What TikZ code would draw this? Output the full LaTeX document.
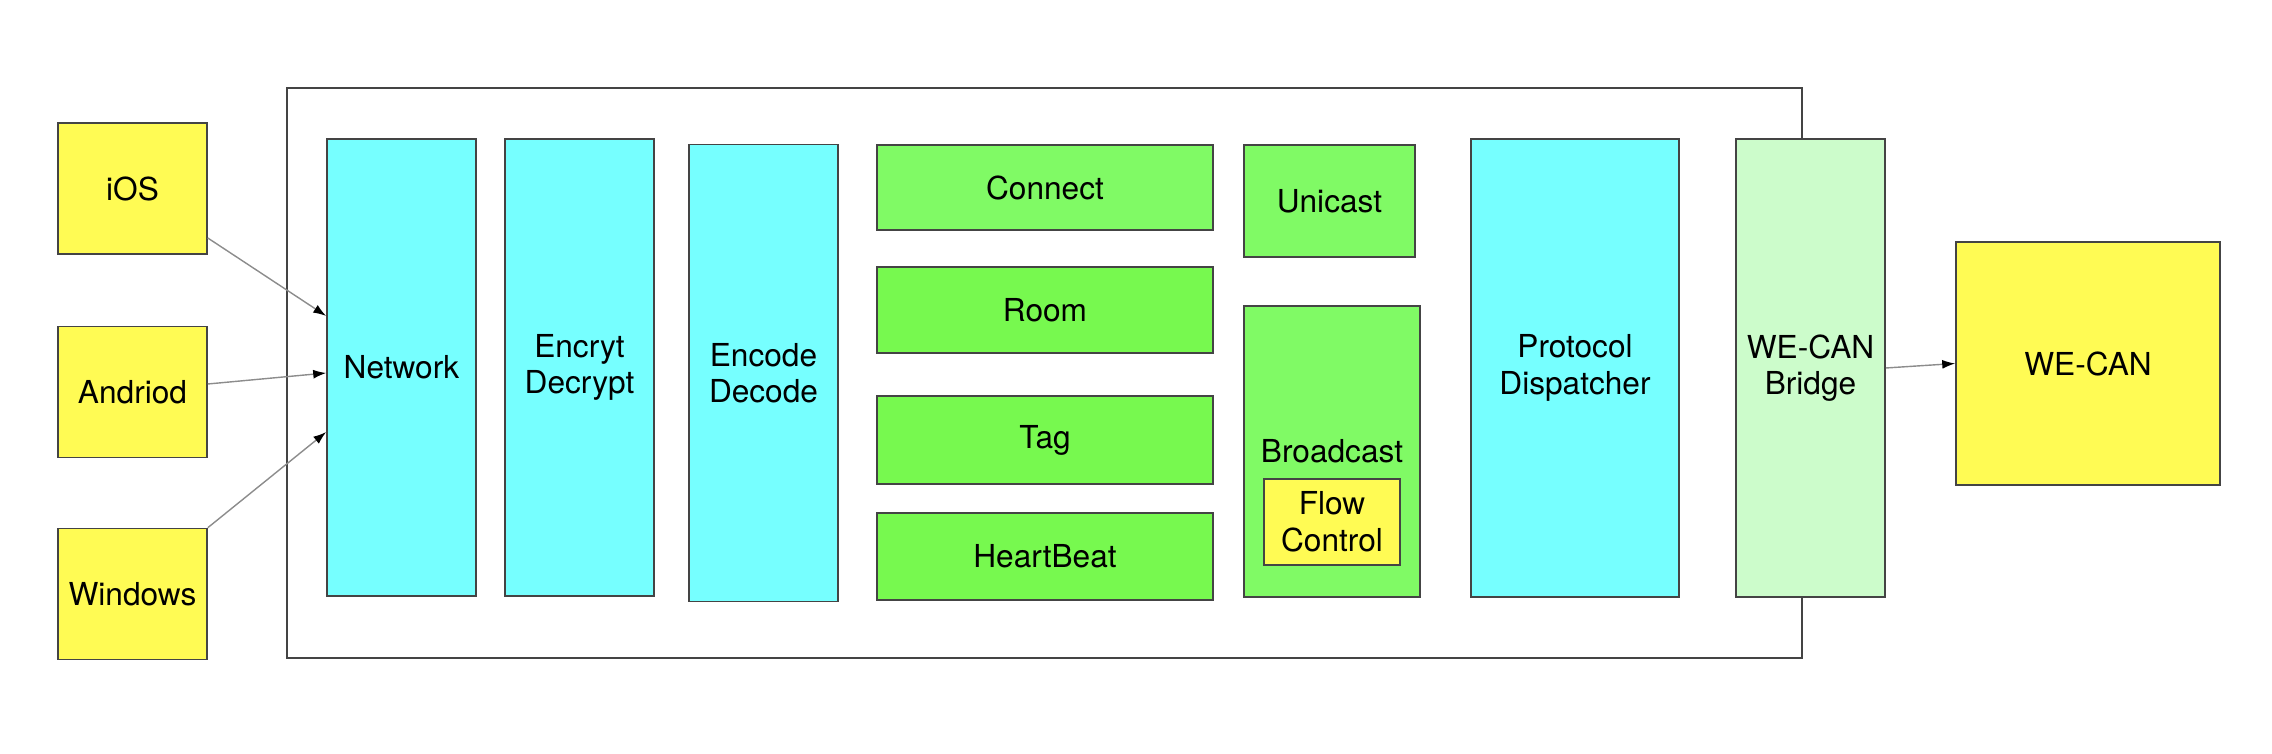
\documentclass[tikz,border=0pt]{standalone}
\usepackage{fontspec}
\setmainfont{TeX Gyre Heros}
\usetikzlibrary{arrows.meta}
\definecolor{clientyellow}{HTML}{FFFB54}
\definecolor{layercyan}{HTML}{76FFFF}
\definecolor{logicgreen}{HTML}{80FA65}
\definecolor{groupgreen}{HTML}{77F94F}
\definecolor{bridgegreen}{HTML}{CCFCCB}
\definecolor{edgegray}{HTML}{444444}
\begin{document}
\begin{tikzpicture}[
      font=\fontsize{9}{10.4}\selectfont,
      block/.style={
        draw=edgegray, line width=0.45pt, rectangle, inner sep=0pt,
        align=center
      },
      client/.style={block, fill=clientyellow,
        minimum width=1.49cm, minimum height=1.31cm},
      layer/.style={block, fill=layercyan,
        minimum width=1.49cm, minimum height=4.57cm},
      group/.style={block, fill=groupgreen,
        minimum width=3.36cm, minimum height=0.86cm},
      core/.style={draw=edgegray, line width=0.45pt, inner sep=0pt,
        minimum width=15.15cm, minimum height=5.70cm},
      link/.style={draw=black!45, line width=0.4pt,
        -{Latex[length=1.3mm,width=0.9mm,color=black]}}
    ]
    \useasboundingbox (0,0) rectangle (22.72,-7.54);

    \node[core] (server) at (10.445,-3.73) {};

    \node[client] (ios) at (1.325,-1.885) {iOS};
    \node[client] (andriod) at (1.325,-3.92) {Andriod};
    \node[client] (windows) at (1.325,-5.94) {Windows};

    \node[layer] (network) at (4.015,-3.675) {Network};
    \node[layer] (crypt) at (5.795,-3.675) {Encryt\\Decrypt};
    \node[layer] (codec) at (7.635,-3.73) {Encode\\Decode};

    \node[group, fill=logicgreen, minimum height=0.85cm] (connect) at (10.45,-1.875) {Connect};
    \node[group] (room) at (10.45,-3.10) {Room};
    \node[group, minimum height=0.88cm] (tag) at (10.45,-4.40) {Tag};
    \node[group, minimum height=0.87cm] (heartbeat) at (10.45,-5.565) {HeartBeat};

    \node[block, fill=logicgreen, minimum width=1.71cm, minimum height=1.12cm]
      (unicast) at (13.295,-2.01) {Unicast};
    \node[block, fill=logicgreen, minimum width=1.76cm, minimum height=2.91cm]
      (broadcast) at (13.32,-4.515) {Broadcast};
    \node[block, fill=clientyellow, minimum width=1.36cm, minimum height=0.86cm]
      (flow) at (13.32,-5.22) {Flow\\Control};

    \node[layer, minimum width=2.08cm, minimum height=4.58cm]
      (dispatch) at (15.75,-3.68) {Protocol\\Dispatcher};
    \node[layer, fill=bridgegreen, minimum height=4.58cm]
      (bridge) at (18.105,-3.68) {WE-CAN\\Bridge};
    \node[block, fill=clientyellow, minimum width=2.64cm, minimum height=2.43cm]
      (wecan) at (20.88,-3.635) {WE-CAN};

    \draw[link] ([yshift=-0.495cm]ios.east) -- ([yshift=0.515cm]network.west);
    \draw[link] ([yshift=0.08cm]andriod.east) -- ([yshift=-0.055cm]network.west);
    \draw[link] (windows.north east) -- ([yshift=-0.645cm]network.west);
    \draw[link] (bridge.east) -- (wecan.west);
  \end{tikzpicture}
\end{document}
